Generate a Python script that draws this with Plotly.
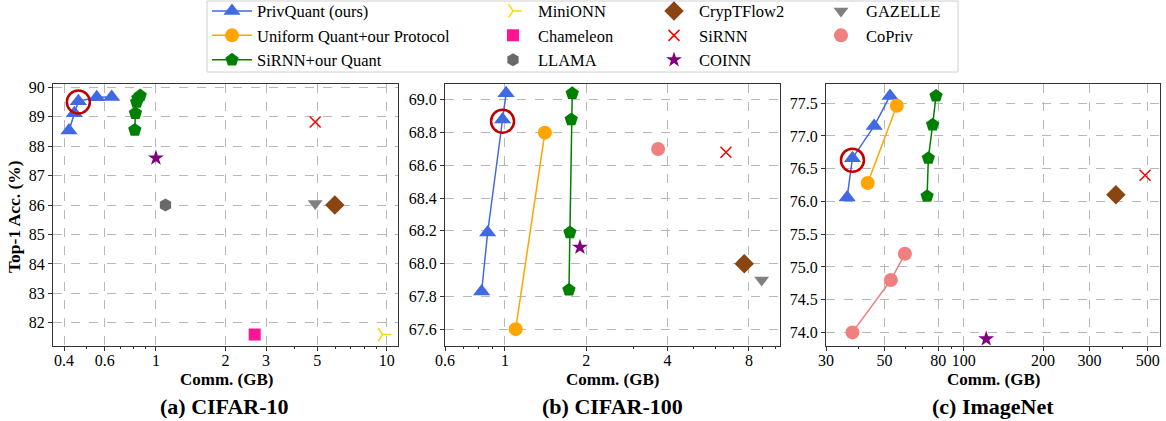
import numpy as np
import plotly.graph_objects as go

# ---------------- data ----------------
# (a) CIFAR-10
a_priv_x = [0.42, 0.443, 0.461, 0.554, 0.643]
a_priv_y = [88.53, 89.12, 89.53, 89.66, 89.67]
a_sirq_x = [0.81, 0.815, 0.825, 0.835, 0.855]
a_sirq_y = [88.55, 89.12, 89.50, 89.63, 89.72]
a_other = {
    "MiniONN": ([9.6], [81.6]),
    "Chameleon": ([2.68], [81.6]),
    "LLAMA": ([1.10], [86.0]),
    "CrypTFlow2": ([5.96], [86.0]),
    "SiRNN": ([4.9], [88.82]),
    "COINN": ([1.0], [87.6]),
    "GAZELLE": ([4.9], [86.05]),
}
a_circle = ([0.461], [89.5])

# (b) CIFAR-100
b_priv_x = [0.82, 0.863, 0.98, 1.01]
b_priv_y = [67.83, 68.19, 68.88, 69.04]
b_uni_x = [1.096, 1.406]
b_uni_y = [67.60, 68.80]
b_sirq_x = [1.726, 1.74, 1.76, 1.775]
b_sirq_y = [67.84, 68.19, 68.88, 69.04]
b_other = {
    "CrypTFlow2": ([7.69], [68.0]),
    "SiRNN": ([6.58], [68.68]),
    "COINN": ([1.895], [68.10]),
    "GAZELLE": ([8.92], [67.90]),
    "CoPriv": ([3.69], [68.70]),
}
b_circle = ([0.98], [68.87])

# (c) ImageNet
c_priv_x = [36.1, 37.8, 45.7, 52.5]
c_priv_y = [76.06, 76.66, 77.15, 77.61]
c_uni_x = [43.2, 55.7]
c_uni_y = [76.28, 77.46]
c_sirq_x = [72.6, 73.4, 76.2, 78.5]
c_sirq_y = [76.08, 76.66, 77.17, 77.61]
c_copriv_x = [37.8, 52.9, 59.8]
c_copriv_y = [74.0, 74.8, 75.2]
c_other = {
    "CrypTFlow2": ([378], [76.10]),
    "SiRNN": ([488], [76.40]),
    "COINN": ([121.7], [73.90]),
}
c_circle = ([37.8], [76.63])

# axis ticks
a_xticks = [0.4, 0.6, 1, 2, 3, 5, 10]
a_xtext = ["0.4", "0.6", "1", "2", "3", "5", "10"]
a_yticks = [82, 83, 84, 85, 86, 87, 88, 89, 90]
b_xticks = [0.6, 1, 2, 4, 8]
b_xtext = ["0.6", "1", "2", "4", "8"]
b_yticks = [67.6, 67.8, 68.0, 68.2, 68.4, 68.6, 68.8, 69.0]
c_xticks = [30, 50, 80, 100, 200, 300, 500]
c_xtext = ["30", "50", "80", "100", "200", "300", "500"]
c_yticks = [74.0, 74.5, 75.0, 75.5, 76.0, 76.5, 77.0, 77.5]

# ---------------- styles ----------------
FONT = "'Liberation Serif', 'Times New Roman', 'DejaVu Serif', serif"
styles = {
    "PrivQuant (ours)": dict(color="#4169E1", symbol="triangle-up", size=15),
    "Uniform Quant+our Protocol": dict(color="#FFA500", symbol="circle", size=14),
    "SiRNN+our Quant": dict(color="#008000", symbol="pentagon", size=14),
    "MiniONN": dict(color="#FFD700", symbol="y-right-open", size=11),
    "Chameleon": dict(color="#FF1493", symbol="square", size=12),
    "LLAMA": dict(color="#696969", symbol="hexagon", size=13),
    "CrypTFlow2": dict(color="#8B4513", symbol="diamond", size=15),
    "SiRNN": dict(color="#FF0000", symbol="x-thin-open", size=11),
    "COINN": dict(color="#800080", symbol="star", size=12),
    "GAZELLE": dict(color="#808080", symbol="triangle-down", size=13),
    "CoPriv": dict(color="#F08080", symbol="circle", size=14),
}
legend_of = {
    "PrivQuant (ours)": "legend", "Uniform Quant+our Protocol": "legend", "SiRNN+our Quant": "legend",
    "MiniONN": "legend2", "Chameleon": "legend2", "LLAMA": "legend2",
    "CrypTFlow2": "legend3", "SiRNN": "legend3", "COINN": "legend3",
    "GAZELLE": "legend4", "CoPriv": "legend4",
}
legend_order = ["PrivQuant (ours)", "Uniform Quant+our Protocol", "SiRNN+our Quant",
                "MiniONN", "Chameleon", "LLAMA", "CrypTFlow2", "SiRNN", "COINN",
                "GAZELLE", "CoPriv"]

fig = go.Figure()
shown = set()


def add(name, xs, ys, ax, lines=False, legend=True):
    st = styles[name]
    show = legend and (name not in shown)
    if show:
        shown.add(name)
    line_w = 1.5 if st["symbol"] in ("x-thin-open", "y-right-open") else 0
    fig.add_trace(go.Scatter(
        x=xs, y=ys, name=name, mode="lines+markers" if lines else "markers",
        xaxis="x" + ax, yaxis="y" + ax,
        line=dict(color=st["color"], width=1.5),
        marker=dict(color=st["color"], symbol=st["symbol"], size=st["size"],
                    line=dict(color=st["color"], width=line_w)),
        legendgroup=name, showlegend=show, legend=legend_of[name],
        legendrank=legend_order.index(name) + 1,
    ))


def circle(pt, ax):
    fig.add_trace(go.Scatter(
        x=pt[0], y=pt[1], mode="markers", xaxis="x" + ax, yaxis="y" + ax,
        marker=dict(symbol="circle-open", size=23, color="#C00000", line=dict(width=2.5, color="#C00000")),
        showlegend=False, hoverinfo="skip"))


# panel a
add("PrivQuant (ours)", a_priv_x, a_priv_y, "", lines=True)
add("SiRNN+our Quant", a_sirq_x, a_sirq_y, "", lines=True)
for k, (xs, ys) in a_other.items():
    add(k, xs, ys, "")
circle(a_circle, "")
# panel b
add("PrivQuant (ours)", b_priv_x, b_priv_y, "2", lines=True)
add("Uniform Quant+our Protocol", b_uni_x, b_uni_y, "2", lines=True)
add("SiRNN+our Quant", b_sirq_x, b_sirq_y, "2", lines=True)
add("MiniONN", [], [], "2")
add("Chameleon", [], [], "2")
add("LLAMA", [], [], "2")
for k, (xs, ys) in b_other.items():
    add(k, xs, ys, "2")
circle(b_circle, "2")
# panel c
add("PrivQuant (ours)", c_priv_x, c_priv_y, "3", lines=True)
add("Uniform Quant+our Protocol", c_uni_x, c_uni_y, "3", lines=True)
add("SiRNN+our Quant", c_sirq_x, c_sirq_y, "3", lines=True)
add("CoPriv", c_copriv_x, c_copriv_y, "3", lines=True, legend=False)
for k, (xs, ys) in c_other.items():
    add(k, xs, ys, "3")
circle(c_circle, "3")

W, H = 1166, 421


def minor_vals(lo, hi, major):
    vals = []
    for d in range(int(np.floor(np.log10(lo))) - 1, int(np.ceil(np.log10(hi))) + 1):
        for m in range(1, 10):
            v = m * 10 ** d
            if lo <= v <= hi and not any(abs(v - t) / t < 1e-6 for t in major):
                vals.append(v)
    return vals


def xaxis(x0, x1, rng, ticks, text, anchor):
    return dict(domain=[x0 / W, x1 / W], type="log", range=[np.log10(rng[0]), np.log10(rng[1])],
                tickvals=ticks, ticktext=text, anchor=anchor, automargin=False,
                showline=True, linecolor="#333333", linewidth=1.2, mirror=True,
                ticks="outside", ticklen=4, tickcolor="#333333", ticklabelstandoff=-4,
                showgrid=True, gridcolor="#b8b8b8", griddash="dash", gridwidth=0.8,
                tickfont=dict(family=FONT, size=16, color="black"), zeroline=False,
                minor=dict(tickvals=minor_vals(rng[0], rng[1], ticks), ticks="outside", ticklen=2,
                           tickcolor="#333333", showgrid=False))


def yaxis(rng, ticks, fmt, anchor):
    return dict(domain=[(H - 345.5) / H, (H - 83.5) / H], range=rng, tickvals=ticks, tickformat=fmt,
                anchor=anchor, automargin=False, showline=True, linecolor="#333333", linewidth=1.2,
                mirror=True, ticks="outside", ticklen=4, tickcolor="#333333",
                showgrid=True, gridcolor="#b8b8b8", griddash="dash", gridwidth=0.8,
                tickfont=dict(family=FONT, size=16, color="black"), zeroline=False)


legend_common = dict(font=dict(family=FONT, size=16.5, color="black"), bgcolor="rgba(0,0,0,0)",
                     borderwidth=0, yanchor="top", y=1.015, xanchor="left", tracegroupgap=0,
                     itemwidth=40)

fig.update_layout(
    width=W, height=H, margin=dict(l=0, r=0, t=0, b=0, autoexpand=False),
    paper_bgcolor="white", plot_bgcolor="white",
    font=dict(family=FONT),
    xaxis=xaxis(53, 398, (0.358, 11.2), a_xticks, a_xtext, "y"),
    yaxis=yaxis([81.23, 90.13], a_yticks, "d", "x"),
    xaxis2=xaxis(445, 780, (0.6, 10.43), b_xticks, b_xtext, "y2"),
    yaxis2=yaxis([67.50, 69.10], b_yticks, ".1f", "x2"),
    xaxis3=xaxis(826, 1160, (30, 556), c_xticks, c_xtext, "y3"),
    yaxis3=yaxis([73.80, 77.80], c_yticks, ".1f", "x3"),
    legend=dict(legend_common, x=207 / W),
    legend2=dict(legend_common, x=488 / W),
    legend3=dict(legend_common, x=649 / W),
    legend4=dict(legend_common, x=816 / W),
    showlegend=True,
)

# legend frame
fig.add_shape(type="rect", xref="paper", yref="paper", x0=207 / W, x1=958 / W,
              y0=(H - 72) / H, y1=(H - 1) / H, line=dict(color="#d0d0d0", width=1), layer="below")

ann = [
    dict(text="<b>Top-1 Acc. (%)</b>", x=14 / W, y=(H - 217) / H, textangle=-90, size=17.5),
    dict(text="<b>Comm. (GB)</b>", x=226 / W, y=(H - 379) / H, size=17),
    dict(text="<b>Comm. (GB)</b>", x=612 / W, y=(H - 379) / H, size=17),
    dict(text="<b>Comm. (GB)</b>", x=993 / W, y=(H - 379) / H, size=17),
    dict(text="<b>(a) CIFAR-10</b>", x=224 / W, y=(H - 406) / H, size=22),
    dict(text="<b>(b) CIFAR-100</b>", x=612 / W, y=(H - 406) / H, size=22),
    dict(text="<b>(c) ImageNet</b>", x=993 / W, y=(H - 406) / H, size=22),
]
for a in ann:
    fig.add_annotation(text=a["text"], x=a["x"], y=a["y"], xref="paper", yref="paper",
                       showarrow=False, textangle=a.get("textangle", 0),
                       font=dict(family=FONT, size=a["size"], color="black"),
                       xanchor="center", yanchor="middle")

fig.write_html("out.html", config={"displayModeBar": False},
               post_script="document.body.style.margin='0px';")
